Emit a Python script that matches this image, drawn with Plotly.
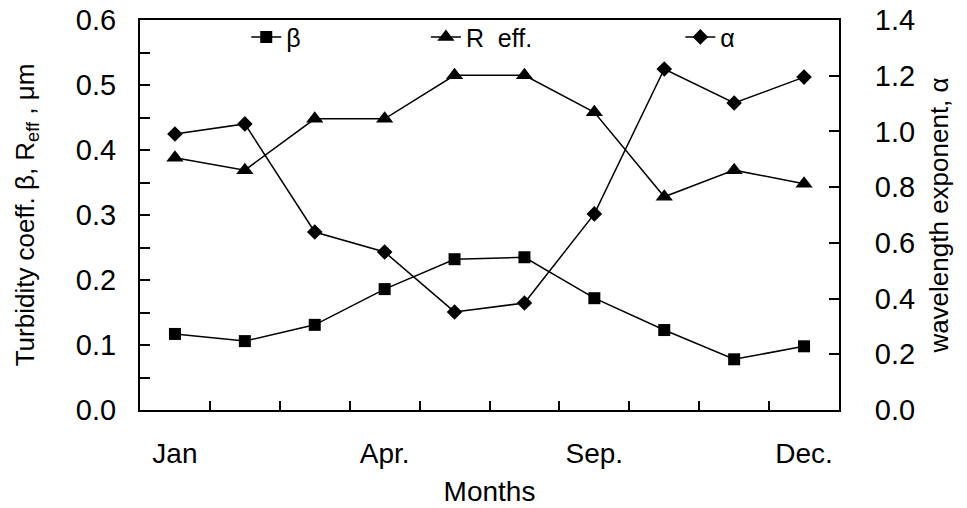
import plotly.graph_objects as go

# Monthly aerosol optical parameters
months = ["Jan", "Feb", "Mar", "Apr.", "May", "Jun", "Sep.", "Oct", "Nov", "Dec."]
labelled_months = ["Jan", "Apr.", "Sep.", "Dec."]
beta = [0.117, 0.106, 0.131, 0.186, 0.232, 0.235, 0.172, 0.123, 0.078, 0.098]
r_eff = [0.388, 0.369, 0.448, 0.448, 0.515, 0.515, 0.458, 0.328, 0.369, 0.348]
alpha = [0.991, 1.027, 0.639, 0.567, 0.352, 0.384, 0.704, 1.224, 1.102, 1.195]

FONT = "Arial, Liberation Sans, sans-serif"
idx = list(range(len(months)))
label_pos = [months.index(m) for m in labelled_months]

fig = go.Figure()
line = dict(color="black", width=1.5)

fig.add_trace(go.Scatter(
    x=idx, y=beta, name="β", mode="lines+markers", line=line,
    marker=dict(symbol="square", size=12, color="black"),
    legend="legend", yaxis="y"))
fig.add_trace(go.Scatter(
    x=idx, y=r_eff, name="R  eff.", mode="lines+markers", line=line,
    marker=dict(symbol="triangle-up", size=15, color="black"),
    legend="legend2", yaxis="y"))
fig.add_trace(go.Scatter(
    x=idx, y=alpha, name="α", mode="lines+markers", line=line,
    marker=dict(symbol="diamond", size=12, color="black"),
    legend="legend3", yaxis="y2"))

leg_common = dict(orientation="h", yanchor="middle", y=0.956, xanchor="left",
                  bgcolor="rgba(0,0,0,0)", font=dict(family=FONT, size=25, color="black"))

fig.update_layout(
    width=967, height=508,
    margin=dict(l=140, r=128, t=20, b=98, autoexpand=False),
    paper_bgcolor="white", plot_bgcolor="white",
    font=dict(family=FONT, color="black"),
    showlegend=True,
    legend=dict(x=0.152, **leg_common),
    legend2=dict(x=0.409, **leg_common),
    legend3=dict(x=0.773, **leg_common),
    xaxis=dict(
        range=[-0.5, len(months) - 0.5],
        tickmode="array", tickvals=label_pos, ticktext=labelled_months,
        ticks="inside", ticklen=0, ticklabelstandoff=17,
        tickfont=dict(size=28),
        minor=dict(tick0=0.5, dtick=1, ticks="inside", ticklen=9,
                   tickwidth=1.5, tickcolor="black", showgrid=False),
        showline=True, linecolor="black", linewidth=2, mirror=True,
        showgrid=False, zeroline=False,
        title=dict(text="Months", font=dict(size=28), standoff=14),
    ),
    yaxis=dict(
        range=[0, 0.6], dtick=0.1, tick0=0, tickformat=".1f",
        ticks="inside", ticklen=10, tickwidth=1.5, tickcolor="black",
        ticklabelstandoff=16, tickfont=dict(size=29),
        minor=dict(dtick=0.05, ticks="inside", ticklen=10, tickwidth=1.5,
                   tickcolor="black", showgrid=False),
        showline=True, linecolor="black", linewidth=2,
        showgrid=False, zeroline=False,
        title=dict(text="Turbidity coeff. β, R<sub>eff</sub> , μm",
                   font=dict(size=26), standoff=34),
    ),
    yaxis2=dict(
        range=[0, 1.4], dtick=0.2, tick0=0, tickformat=".1f",
        overlaying="y", side="right",
        ticks="inside", ticklen=10, tickwidth=1.5, tickcolor="black",
        ticklabelstandoff=28, tickfont=dict(size=29),
        showline=True, linecolor="black", linewidth=2,
        showgrid=False, zeroline=False,
        title=dict(text="wavelength exponent, α", font=dict(size=26), standoff=16),
    ),
)

fig.write_html("out.html")
